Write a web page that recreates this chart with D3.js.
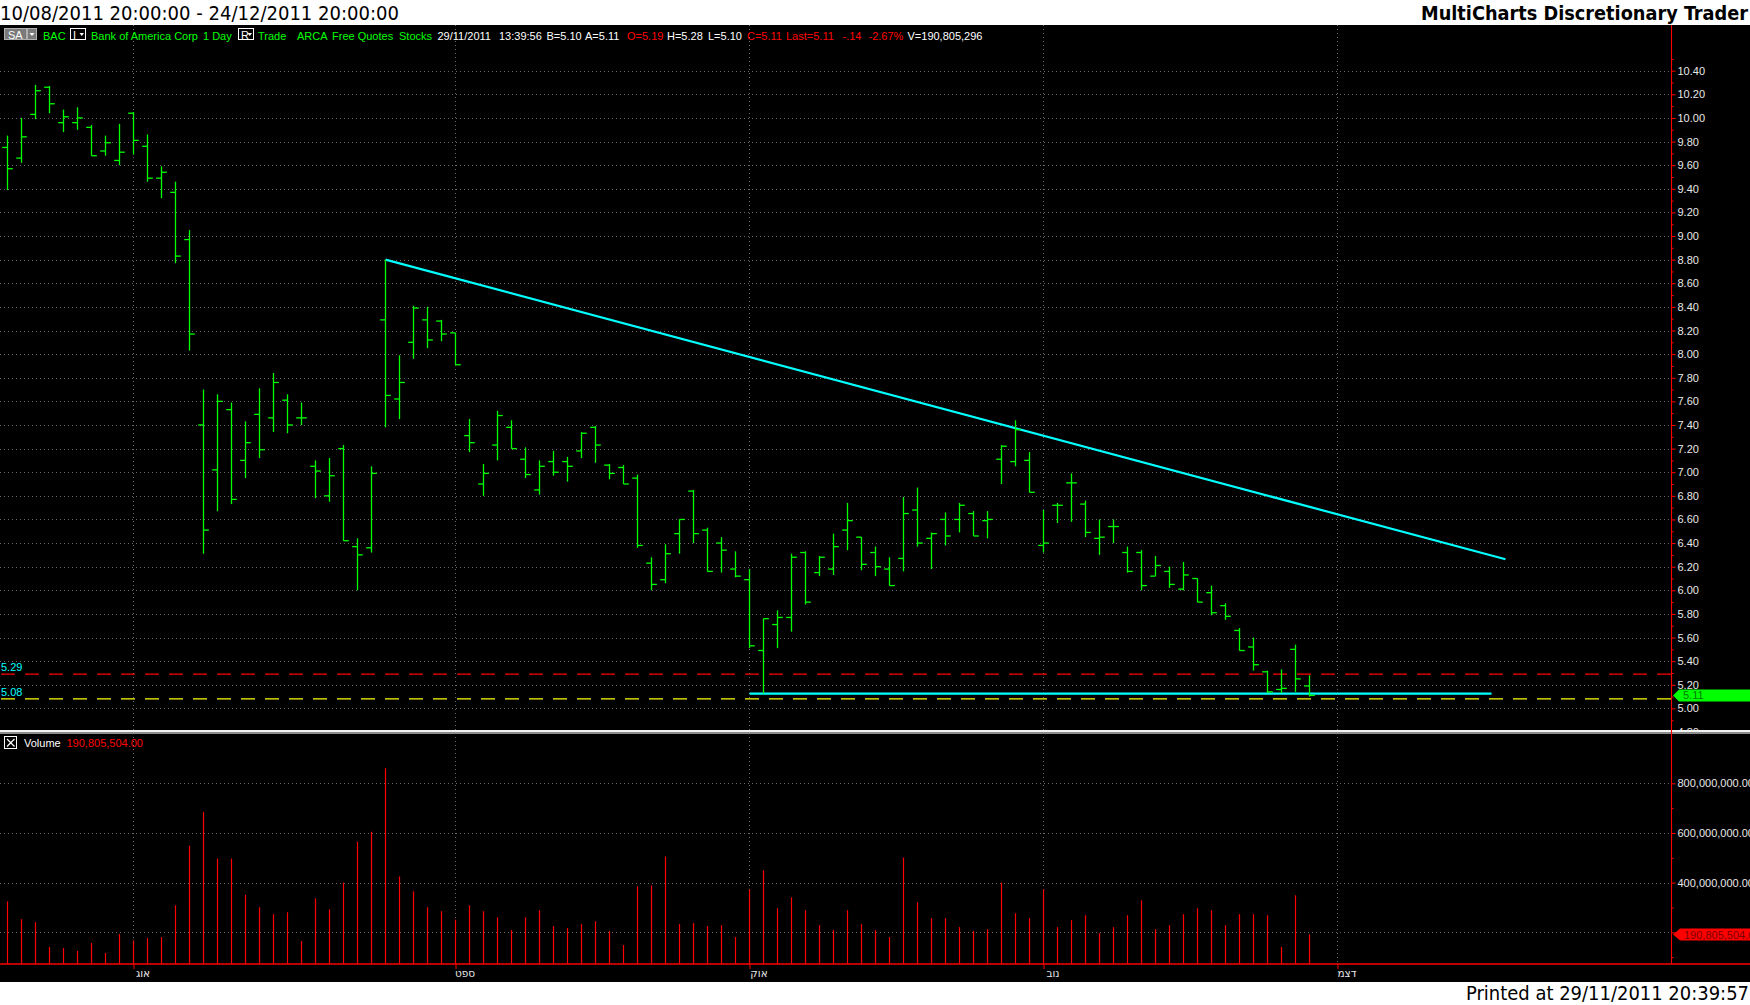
<!DOCTYPE html>
<html>
<head>
<meta charset="utf-8">
<script src="https://cdnjs.cloudflare.com/ajax/libs/d3/7.8.5/d3.min.js"></script>
<style>
  body { margin: 0; background: #fff; overflow: hidden; }
  svg { display: block; }
</style>
</head>
<body>
<svg id="chart" width="1750" height="1005"></svg>
<script>
// trading days, BAC daily bars
var dates = [
  "19/07","20/07","21/07","22/07","25/07","26/07","27/07","28/07","29/07",
  "01/08","02/08","03/08","04/08","05/08","08/08","09/08","10/08","11/08","12/08","15/08","16/08","17/08","18/08","19/08","22/08","23/08","24/08","25/08","26/08","29/08","30/08","31/08",
  "01/09","02/09","06/09","07/09","08/09","09/09","12/09","13/09","14/09","15/09","16/09","19/09","20/09","21/09","22/09","23/09","26/09","27/09","28/09","29/09","30/09",
  "03/10","04/10","05/10","06/10","07/10","10/10","11/10","12/10","13/10","14/10","17/10","18/10","19/10","20/10","21/10","24/10","25/10","26/10","27/10","28/10","31/10",
  "01/11","02/11","03/11","04/11","07/11","08/11","09/11","10/11","11/11","14/11","15/11","16/11","17/11","18/11","21/11","22/11","23/11","25/11","28/11","29/11"
];
var opens = [9.75,9.66,10.03,10.26,9.96,9.96,9.92,9.72,9.64,
  10.04,9.76,9.49,9.37,8.97,7.40,7.02,7.53,7.10,7.49,7.46,7.61,7.46,7.05,6.80,7.20,6.37,6.36,8.29,7.62,8.10,8.29,8.28,
  8.18,7.31,6.90,7.23,7.38,7.11,6.85,7.09,7.09,7.18,7.38,7.06,7.04,6.95,6.23,6.09,6.48,6.84,6.51,6.40,6.18,
  6.09,5.49,5.71,5.77,6.32,6.15,6.18,6.51,6.45,6.32,6.18,6.27,6.68,6.44,6.60,6.60,6.65,6.59,7.11,7.09,7.10,
  6.38,6.72,6.91,6.73,6.44,6.54,6.32,6.32,6.12,6.16,6.01,6.10,5.98,5.87,5.66,5.52,5.31,5.16,5.50,5.19];
var highs = [9.85,10.00,10.28,10.27,10.07,10.09,9.94,9.85,9.95,
  10.05,9.86,9.59,9.46,9.05,7.70,7.66,7.59,7.43,7.71,7.84,7.66,7.59,7.10,7.12,7.23,6.44,7.05,8.80,7.99,8.41,8.40,8.29,
  8.18,7.45,7.07,7.52,7.44,7.21,7.10,7.18,7.13,7.34,7.39,7.07,7.06,6.98,6.28,6.39,6.60,6.85,6.53,6.45,6.33,
  6.18,5.76,5.83,6.31,6.33,6.29,6.48,6.74,6.45,6.37,6.28,6.79,6.87,6.49,6.66,6.74,6.67,6.67,7.23,7.44,7.17,
  6.68,6.74,6.99,6.76,6.60,6.60,6.37,6.34,6.29,6.20,6.24,6.10,6.04,5.89,5.68,5.60,5.32,5.33,5.54,5.28];
var lows = [9.39,9.62,9.99,10.04,9.88,9.90,9.68,9.68,9.60,
  9.69,9.46,9.32,8.77,8.03,6.31,6.67,6.73,6.95,7.12,7.34,7.33,7.40,6.78,6.75,6.42,6.00,6.32,7.38,7.45,7.96,8.05,8.11,
  7.91,7.17,6.80,7.10,7.20,6.95,6.81,6.97,6.92,7.12,7.08,6.94,6.90,6.36,6.00,6.06,6.31,6.40,6.16,6.15,6.11,
  5.51,5.125,5.51,5.65,5.88,6.12,6.13,6.34,6.17,6.12,6.04,6.16,6.37,6.18,6.38,6.49,6.46,6.44,6.90,7.05,6.83,
  6.32,6.57,6.58,6.45,6.30,6.40,6.15,6.00,6.12,6.02,6.00,5.90,5.79,5.75,5.49,5.32,5.13,5.13,5.14,5.10];
var closes = [9.57,9.84,10.23,10.12,10.01,10.00,9.68,9.79,9.71,
  9.81,9.49,9.54,8.83,8.17,6.51,7.60,6.77,7.25,7.19,7.76,7.40,7.46,7.01,6.97,6.42,6.30,6.99,7.65,7.76,8.39,8.12,8.17,
  7.91,7.25,6.99,7.48,7.20,6.98,7.05,7.00,7.05,7.33,7.23,6.99,6.90,6.38,6.05,6.31,6.60,6.48,6.16,6.34,6.12,
  5.53,5.76,5.77,6.28,5.90,6.28,6.37,6.59,6.22,6.20,6.04,6.65,6.40,6.48,6.46,6.72,6.46,6.60,7.22,7.36,6.83,
  6.40,6.72,6.91,6.49,6.45,6.54,6.16,6.04,6.21,6.05,6.13,5.90,5.81,5.78,5.49,5.37,5.14,5.17,5.25,5.11];
// volume in millions of shares
var volumesM = [325,253,241,141,137,125,157,117,193,
  167,177,181,309,549,685,497,497,351,301,273,281,165,337,293,400,565,605,861,425,365,301,285,
  251,309,285,261,209,261,289,225,217,233,245,205,149,385,389,505,233,237,225,229,181,
  373,449,297,341,289,229,209,289,233,209,181,501,321,257,257,221,205,213,400,277,257,
  373,221,249,269,197,221,269,329,213,229,273,297,289,229,273,273,269,141,349,190.8];

var priceTicks = [4.80,5.00,5.20,5.40,5.60,5.80,6.00,6.20,6.40,6.60,6.80,7.00,7.20,7.40,7.60,7.80,8.00,8.20,8.40,8.60,8.80,9.00,9.20,9.40,9.60,9.80,10.00,10.20,10.40];
var volTicks = [200e6, 400e6, 600e6, 800e6];
var monthLabels = ["אוג", "ספט", "אוק", "נוב", "דצמ"];
var monthStart = [9, 32, 53, 74, 95];   // bar index of first trading day of month

// drawn studies
var trendFrom = [27, 8.80], trendTo = [107, 6.263];
var floorFrom = [53, 5.125], floorTo = [106, 5.125];
var levelRed = 5.29, levelYellow = 5.08;
var lastPrice = 5.11, lastVolume = 190805504;

var W = 1750, H = 1005, axisX = 1671.5;
var svg = d3.select("#chart");

var x = d3.scaleLinear().domain([0, 100]).range([7.5, 1407.5]);
var y = d3.scaleLinear().domain([5.00, 10.40]).range([708.4, 70.7]);
var yVol = d3.scaleLinear().domain([72.5e6, 800e6]).range([964, 783.3]);

var sans = "'Liberation Sans', Arial, sans-serif";
var green = "#00ff00", red = "#ff0000", cyan = "#00ffff", grid = "#6a6a6a";

svg.append("rect").attr("width", W).attr("height", H).attr("fill", "#fff");
svg.append("rect").attr("x", 0).attr("y", 25).attr("width", W).attr("height", 957).attr("fill", "#000");

var defs = svg.append("defs");
defs.append("clipPath").attr("id", "pclip").append("rect").attr("x", 0).attr("y", 25).attr("width", 1671).attr("height", 705);
defs.append("clipPath").attr("id", "aclip").append("rect").attr("x", 1671).attr("y", 25).attr("width", 80).attr("height", 705);

// vertical month grid through both panels
svg.append("g").selectAll("line").data(monthStart).enter().append("line")
  .attr("x1", function(d){ return x(d); }).attr("x2", function(d){ return x(d); })
  .attr("y1", 25).attr("y2", 964)
  .attr("stroke", grid).attr("stroke-dasharray", "1,3");

// ---- price panel
var pp = svg.append("g").attr("clip-path", "url(#pclip)");
pp.selectAll(".hg").data(priceTicks).enter().append("line")
  .attr("x1", 0).attr("x2", 1671)
  .attr("y1", function(d){ return Math.round(y(d)) + 0.5; }).attr("y2", function(d){ return Math.round(y(d)) + 0.5; })
  .attr("stroke", grid).attr("stroke-dasharray", "1,3");

pp.append("line").attr("x1", 1).attr("x2", 1671).attr("y1", y(levelRed)).attr("y2", y(levelRed))
  .attr("stroke", red).attr("stroke-width", 1.3).attr("stroke-dasharray", "14,10");
pp.append("line").attr("x1", 1).attr("x2", 1671).attr("y1", y(levelYellow)).attr("y2", y(levelYellow))
  .attr("stroke", "#ffff00").attr("stroke-width", 1.3).attr("stroke-dasharray", "14,10");
pp.append("text").attr("x", 1).attr("y", y(levelRed) - 3).attr("fill", cyan)
  .attr("font-family", sans).attr("font-size", 11).text(levelRed.toFixed(2));
pp.append("text").attr("x", 1).attr("y", y(levelYellow) - 3).attr("fill", cyan)
  .attr("font-family", sans).attr("font-size", 11).text(levelYellow.toFixed(2));

pp.append("line").attr("x1", x(trendFrom[0])).attr("y1", y(trendFrom[1]))
  .attr("x2", x(trendTo[0])).attr("y2", y(trendTo[1]))
  .attr("stroke", cyan).attr("stroke-width", 2.2);
pp.append("line").attr("x1", x(floorFrom[0])).attr("y1", y(floorFrom[1]))
  .attr("x2", x(floorTo[0])).attr("y2", y(floorTo[1]))
  .attr("stroke", cyan).attr("stroke-width", 2.2);

var bars = pp.selectAll(".bar").data(dates).enter().append("g")
  .attr("stroke", green).attr("stroke-width", 1.3);
bars.append("line")
  .attr("x1", function(d,i){ return x(i); }).attr("x2", function(d,i){ return x(i); })
  .attr("y1", function(d,i){ return y(highs[i]); }).attr("y2", function(d,i){ return y(lows[i]); });
bars.append("line")
  .attr("x1", function(d,i){ return x(i) - 5.3; }).attr("x2", function(d,i){ return x(i); })
  .attr("y1", function(d,i){ return y(opens[i]); }).attr("y2", function(d,i){ return y(opens[i]); });
bars.append("line")
  .attr("x1", function(d,i){ return x(i); }).attr("x2", function(d,i){ return x(i) + 5.3; })
  .attr("y1", function(d,i){ return y(closes[i]); }).attr("y2", function(d,i){ return y(closes[i]); });

// price axis (clip group outside the translated one)
var pa = svg.append("g").attr("clip-path", "url(#aclip)")
  .append("g").attr("transform", "translate(" + axisX + ",0)");
pa.append("g").call(d3.axisRight(y).tickValues(priceTicks.map(function(d){ return d + 0.1; })).tickFormat("").tickSize(2).tickSizeOuter(0));
pa.append("g").call(d3.axisRight(y).tickValues(priceTicks).tickFormat(d3.format(".2f")).tickSize(4).tickSizeOuter(0).tickPadding(2));
pa.selectAll(".domain").remove();
pa.selectAll(".tick line").attr("stroke", red);
pa.selectAll(".tick text").attr("fill", "#e8e8e8").attr("font-family", sans).attr("font-size", 11);

// last price marker
var yc = y(lastPrice);
svg.append("path").attr("d", "M1673," + yc + "L1679," + (yc - 6) + "H1750V" + (yc + 6) + "H1679Z").attr("fill", green);
svg.append("text").attr("x", 1683).attr("y", yc + 4).attr("fill", "#007a00")
  .attr("font-family", sans).attr("font-size", 11).text(lastPrice.toFixed(2));

// ---- separator
svg.append("rect").attr("x", 0).attr("y", 730).attr("width", W).attr("height", 2).attr("fill", "#f2f2f2");
svg.append("rect").attr("x", 0).attr("y", 732).attr("width", W).attr("height", 2).attr("fill", "#8c8c8c");

// ---- volume panel
svg.append("rect").attr("x", 4.5).attr("y", 736.5).attr("width", 12).attr("height", 12)
  .attr("fill", "none").attr("stroke", "#fff");
svg.append("path").attr("d", "M7,739L14.5,746.5M14.5,739L7,746.5").attr("stroke", "#fff").attr("stroke-width", 1.2);
svg.append("text").attr("x", 24).attr("y", 747).attr("fill", "#fff").attr("font-family", sans).attr("font-size", 11).text("Volume");
svg.append("text").attr("x", 66.5).attr("y", 747).attr("fill", red).attr("font-family", sans).attr("font-size", 11)
  .text(d3.format(",.2f")(lastVolume));

svg.append("g").selectAll("line").data(volTicks).enter().append("line")
  .attr("x1", 0).attr("x2", 1671)
  .attr("y1", function(d){ return Math.round(yVol(d)) + 0.5; }).attr("y2", function(d){ return Math.round(yVol(d)) + 0.5; })
  .attr("stroke", grid).attr("stroke-dasharray", "1,3");

svg.append("g").selectAll("line").data(volumesM).enter().append("line")
  .attr("x1", function(d,i){ return x(i); }).attr("x2", function(d,i){ return x(i); })
  .attr("y1", function(d){ return yVol(d * 1e6); }).attr("y2", 964)
  .attr("stroke", red).attr("stroke-width", 1.2);

// the 200M label sits under the last-volume marker, so leave it blank
var va = svg.append("g").attr("transform", "translate(" + axisX + ",0)");
va.append("g").call(d3.axisRight(yVol).tickValues([100e6, 300e6, 500e6, 700e6]).tickFormat("").tickSize(2).tickSizeOuter(0));
va.append("g").call(d3.axisRight(yVol).tickValues(volTicks)
  .tickFormat(function(d){ return d === 200e6 ? "" : d3.format(",.2f")(d); })
  .tickSize(4).tickSizeOuter(0).tickPadding(2));
va.selectAll(".domain").remove();
va.selectAll(".tick line").attr("stroke", red);
va.selectAll(".tick text").attr("fill", "#e8e8e8").attr("font-family", sans).attr("font-size", 11);

var vc = yVol(lastVolume);
svg.append("path").attr("d", "M1673," + vc + "L1680," + (vc - 6) + "H1750V" + (vc + 6) + "H1680Z").attr("fill", red);
svg.append("text").attr("x", 1684).attr("y", vc + 4).attr("fill", "#7a0000")
  .attr("font-family", sans).attr("font-size", 11).text(d3.format(",.2f")(lastVolume));

// baseline + right axis line
svg.append("line").attr("x1", 0).attr("x2", W).attr("y1", 964).attr("y2", 964).attr("stroke", red).attr("stroke-width", 1.6);
svg.append("line").attr("x1", axisX).attr("x2", axisX).attr("y1", 25).attr("y2", 964).attr("stroke", red).attr("stroke-width", 1.1);

// month axis
var ma = svg.append("g").attr("transform", "translate(0,964)")
  .call(d3.axisBottom(x).tickValues(monthStart).tickFormat(function(d, i){ return monthLabels[i]; }).tickSize(5).tickSizeOuter(0).tickPadding(1));
ma.select(".domain").remove();
ma.selectAll(".tick line").attr("stroke", red);
ma.selectAll(".tick text").attr("x", 9).attr("fill", "#e8e8e8").attr("font-family", "'DejaVu Sans', sans-serif").attr("font-size", 10.5);

// ---- header strip
var hdr = svg.append("g").attr("font-family", sans).attr("font-size", 11);
hdr.append("rect").attr("x", 4.5).attr("y", 28.5).attr("width", 22).attr("height", 11).attr("fill", "#7a7a7a").attr("stroke", "#b0b0b0");
hdr.append("rect").attr("x", 27.5).attr("y", 28.5).attr("width", 9).attr("height", 11).attr("fill", "#7a7a7a").attr("stroke", "#b0b0b0");
hdr.append("text").attr("x", 8).attr("y", 38.5).attr("fill", "#fff").text("SA");
hdr.append("path").attr("d", "M29.5,33H34.5L32,36Z").attr("fill", "#fff");
[[70.5, "I"], [238.5, "R"]].forEach(function(b){
  hdr.append("rect").attr("x", b[0]).attr("y", 28.5).attr("width", 15).attr("height", 11).attr("fill", "#000").attr("stroke", "#fff");
  hdr.append("text").attr("x", b[0] + 2.5).attr("y", 38.5).attr("fill", "#fff").text(b[1]);
  hdr.append("path").attr("d", "M" + (b[0] + 9) + ",33h4.5l-2.25,3z").attr("fill", "#fff");
});
function htext(tx, s, fill) { hdr.append("text").attr("x", tx).attr("y", 39.5).attr("fill", fill).text(s); }
htext(43, "BAC", green);
htext(91, "Bank of America Corp", green);
htext(203, "1 Day", green);
htext(258, "Trade", green);
htext(297, "ARCA", green);
htext(332, "Free Quotes", green);
htext(399, "Stocks", green);
htext(437.5, "29/11/2011", "#fff");
htext(499, "13:39:56", "#fff");
htext(546.5, "B=5.10", "#fff");
htext(585, "A=5.11", "#fff");
htext(627, "O=5.19", red);
htext(667, "H=5.28", "#fff");
htext(708, "L=5.10", "#fff");
htext(747, "C=5.11", red);
htext(786, "Last=5.11", red);
htext(842.5, "-.14", red);
htext(868.5, "-2.67%", red);
htext(907.5, "V=190,805,296", "#fff");

// ---- titles
svg.append("text").attr("x", 0).attr("y", 19.5).attr("fill", "#000")
  .attr("font-family", "'DejaVu Sans Condensed', 'DejaVu Sans', sans-serif").attr("font-size", 19)
  .attr("textLength", 399).attr("lengthAdjust", "spacingAndGlyphs")
  .text("10/08/2011 20:00:00 - 24/12/2011 20:00:00");
svg.append("text").attr("x", 1748).attr("y", 19.5).attr("fill", "#000").attr("text-anchor", "end")
  .attr("font-family", "'DejaVu Sans Condensed', 'DejaVu Sans', sans-serif").attr("font-size", 19).attr("font-weight", "bold")
  .attr("textLength", 327).attr("lengthAdjust", "spacingAndGlyphs")
  .text("MultiCharts Discretionary Trader");
svg.append("text").attr("x", 1466).attr("y", 999.5).attr("fill", "#000")
  .attr("font-family", "'DejaVu Sans Condensed', 'DejaVu Sans', sans-serif").attr("font-size", 19)
  .attr("textLength", 283).attr("lengthAdjust", "spacingAndGlyphs")
  .text("Printed at 29/11/2011 20:39:57");
</script>
</body>
</html>
